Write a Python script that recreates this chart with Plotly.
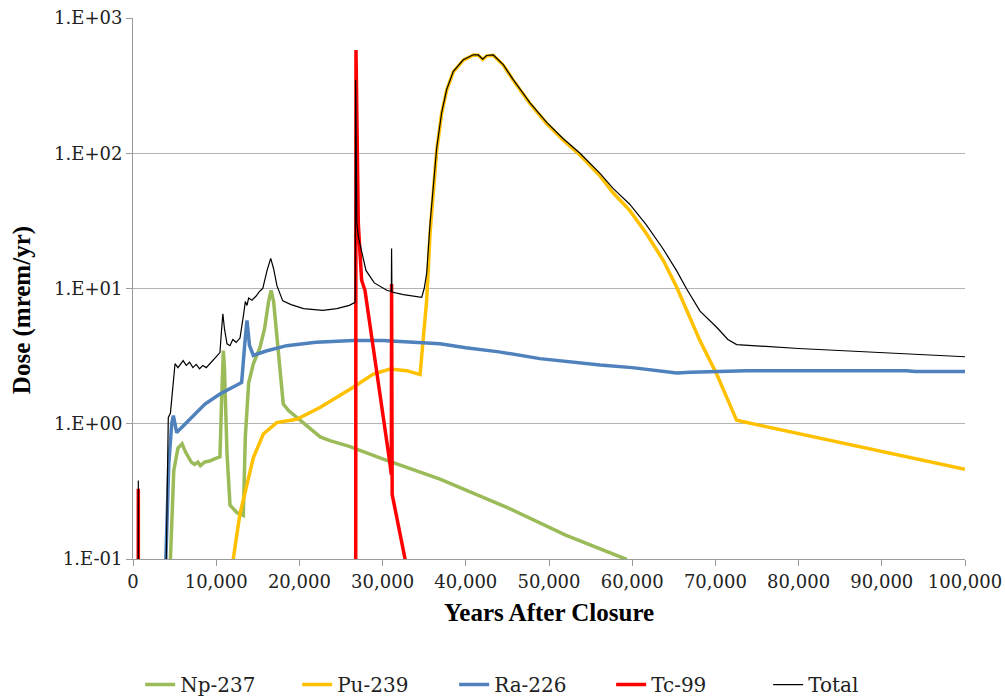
import plotly.graph_objects as go

# ---------------- data ----------------
np_years = [4450, 4500, 4900, 5400, 5900, 6300, 7000, 7400, 7800, 8100, 8600, 9200, 9800,
            10450, 10650, 10860, 11000, 11300, 11660, 12500, 13260, 13500, 13900, 14460,
            15260, 15800, 16300, 16600, 16900, 17400, 18060, 18700, 19670, 21000, 22500,
            23670, 26000, 30000, 36900, 45000, 52000, 59200, 59600]
np_dose = [0.01, 0.1, 0.45, 0.66, 0.71, 0.62, 0.52, 0.5, 0.52, 0.49, 0.52, 0.53, 0.55,
           0.57, 1.5, 3.47, 2.5, 0.6, 0.25, 0.22, 0.21, 0.8, 2.0, 2.77,
           3.67, 5.0, 8.0, 9.7, 8.0, 3.5, 1.4, 1.25, 1.12, 0.95, 0.8,
           0.75, 0.68, 0.55, 0.39, 0.24, 0.15, 0.1, 0.09]

pu_years = [11900, 12050, 12850, 13660, 14460, 15660, 17270, 19670, 22470, 26480, 28880,
            30890, 32900, 34500, 34890, 35300, 35700, 36100, 36500, 37100, 37700, 38500,
            39700, 40900, 41500, 42030, 42500, 43300, 44500, 45700, 47720, 49720, 51720,
            53730, 56130, 57700, 59700, 61700, 63740, 65350, 66530, 68150, 70150, 72550,
            100000]
pu_dose = [0.05, 0.1, 0.215, 0.36, 0.56, 0.84, 1.02, 1.08, 1.32, 1.86, 2.33,
           2.54, 2.47, 2.31, 4.1, 8.2, 25.5, 56, 105, 197, 293, 400,
           488, 532, 530, 494, 525, 530, 449, 347, 233, 166, 125,
           97, 68, 51, 37.8, 25.5, 16.1, 10.2, 7.0, 4.1, 2.33, 1.06,
           0.46]

ra_years = [3900, 3950, 4300, 4650, 4850, 5250, 5700, 6450, 7500, 8650, 10450, 12000,
            13060, 13450, 13700, 14000, 14460, 16000, 18470, 22000, 26480, 30000, 34500,
            36900, 40000, 44000, 48900, 52000, 56130, 60000, 64000, 65350, 67000, 71000,
            73750, 93000, 94000, 100000]
ra_dose = [0.01, 0.1, 0.5, 1.0, 1.15, 0.86, 0.92, 1.02, 1.2, 1.4, 1.66, 1.85,
           2.02, 4.0, 5.8, 3.8, 3.2, 3.45, 3.78, 4.0, 4.12, 4.12, 4.0,
           3.9, 3.65, 3.4, 3.03, 2.88, 2.72, 2.6, 2.45, 2.37, 2.4, 2.42,
           2.47, 2.47, 2.43, 2.43]

tc_years = [600, 630, 640, 650, 26700, 26760, 26800, 27080, 27480, 27880, 30900, 31050,
            31080, 31150, 32700, 33200]
tc_dose = [0.001, 0.001, 0.33, 0.001, 0.001, 0.01, 580, 30, 11.5, 9.7, 0.5, 0.42,
           10.8, 0.3, 0.1, 0.05]

tot_years = [600, 630, 640, 650, 3950, 4000, 4240, 4500, 5050, 5400, 6030, 6400, 6800,
             7200, 7600, 8000, 8400, 8800, 9400, 10000, 10450, 10650, 10800, 11000,
             11300, 11650, 12000, 12400, 12860, 13300, 13500, 13700, 13900, 14300,
             14800, 15200, 15600, 16100, 16550, 16900, 17300, 18000, 19000, 20500,
             22800, 24500, 26000, 26700, 26760, 26900, 27100, 28000, 29000, 30500,
             31050, 31080, 31120, 32500, 34700, 35000, 35300, 35700, 36100, 36500,
             37100, 37700, 38500, 39700, 40900, 41500, 42030, 42500, 43300, 44500,
             45700, 47720, 49720, 51720, 53730, 56130, 57700, 59700, 61700, 63740,
             65350, 66530, 68150, 70150, 71500, 72550, 80000, 90000, 100000]
tot_dose = [0.001, 0.001, 0.38, 0.001, 0.01, 0.1, 1.11, 1.2, 2.78, 2.6, 2.93, 2.7, 2.85,
            2.6, 2.75, 2.55, 2.7, 2.6, 2.85, 3.1, 3.36, 5.0, 6.5, 5.0,
            3.9, 3.78, 4.2, 4.0, 4.3, 6.5, 8.0, 7.5, 8.5, 8.2,
            8.8, 9.5, 10.0, 13.5, 16.7, 14.0, 10.5, 8.1, 7.6, 7.1,
            6.9, 7.1, 7.5, 7.9, 350, 30, 23.9, 13.6, 11.0, 9.7,
            9.5, 19.8, 9.4, 9.0, 8.6, 10.0, 13.0, 30, 60, 109,
            200, 296, 403, 491, 535, 533, 497, 528, 533, 452,
            350, 236, 169, 128, 100, 71, 55, 42, 29.5, 19.5,
            13.5, 9.95, 6.8, 5.17, 4.2, 3.85, 3.6, 3.35, 3.13]

series_names = ["Np-237", "Pu-239", "Ra-226", "Tc-99", "Total"]
series_colors = ["#9BBB59", "#FFC000", "#4F81BD", "#FF0000", "#000000"]
series_widths = [3.5, 3.5, 3.5, 3.5, 1.2]

y_tickvals = [0.1, 1, 10, 100, 1000]
y_ticktext = ["1.E-01", "1.E+00", "1.E+01", "1.E+02", "1.E+03"]
x_tickvals = [0, 10000, 20000, 30000, 40000, 50000, 60000, 70000, 80000, 90000, 100000]

# ---------------- figure ----------------
TITLEFONT = "Liberation Serif"
TEXTFONT = "DejaVu Serif"
fig = go.Figure()
all_data = [(np_years, np_dose), (pu_years, pu_dose), (ra_years, ra_dose),
            (tc_years, tc_dose), (tot_years, tot_dose)]
for (xs, ys), name, col, w in zip(all_data, series_names, series_colors, series_widths):
    fig.add_trace(go.Scatter(x=xs, y=ys, mode="lines", name=name,
                             line=dict(color=col, width=w), cliponaxis=True))

fig.update_layout(
    template="none",
    width=1005, height=700,
    margin=dict(l=133, r=40, t=18, b=141, autoexpand=False),
    paper_bgcolor="white", plot_bgcolor="white",
    font=dict(family=TEXTFONT, size=18, color="#222222"),
    showlegend=True,
    legend=dict(orientation="h", xref="container", yref="container",
                x=0.53, xanchor="center", y=0.022, yanchor="middle",
                font=dict(family=TEXTFONT, size=20, color="#222222"),
                entrywidth=112, traceorder="normal"),
    xaxis=dict(range=[0, 100000], tickvals=x_tickvals, tickformat=",d",
               showgrid=False, zeroline=False, showline=True, linecolor="#9a9a9a",
               linewidth=1, ticks="outside", ticklen=6, tickcolor="#9a9a9a",
               automargin=False, ticklabeloverflow="allow",
               tickfont=dict(family=TEXTFONT, size=18, color="#222222")),
    yaxis=dict(type="log", range=[-1, 3], tickvals=y_tickvals, ticktext=y_ticktext,
               showgrid=True, gridcolor="#b3b3b3", gridwidth=1, zeroline=False,
               showline=True, linecolor="#9a9a9a", linewidth=1, ticks="outside",
               ticklen=6, tickcolor="#9a9a9a", automargin=False,
               ticklabeloverflow="allow",
               tickfont=dict(family=TEXTFONT, size=18, color="#222222")),
    annotations=[
        dict(text="<b>Years After Closure</b>", xref="paper", yref="paper",
             x=0.5, y=-0.098, xanchor="center", yanchor="middle", showarrow=False,
             font=dict(family=TITLEFONT, size=25, color="#000000")),
        dict(text="<b>Dose (mrem/yr)</b>", xref="paper", yref="paper",
             x=-0.1334, y=0.46, xanchor="center", yanchor="middle", showarrow=False,
             textangle=-90, font=dict(family=TITLEFONT, size=25, color="#000000")),
    ],
)

fig.write_html("out.html")
